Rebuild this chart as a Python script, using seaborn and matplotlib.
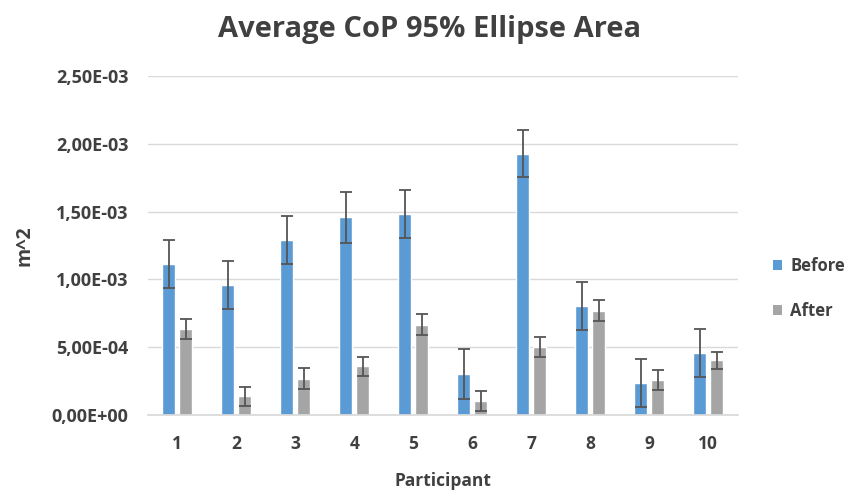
import matplotlib
matplotlib.use("Agg")
import matplotlib.pyplot as plt
import seaborn as sns
import pandas as pd
import numpy as np
from matplotlib.ticker import FuncFormatter, MultipleLocator
from matplotlib.patches import Patch

participants = ["1", "2", "3", "4", "5", "6", "7", "8", "9", "10"]
before = [1.115e-3, 0.958e-3, 1.292e-3, 1.459e-3, 1.481e-3, 0.305e-3, 1.926e-3, 0.803e-3, 0.238e-3, 0.459e-3]
before_err = [0.178e-3, 0.177e-3, 0.175e-3, 0.187e-3, 0.175e-3, 0.186e-3, 0.172e-3, 0.175e-3, 0.175e-3, 0.175e-3]
after = [0.636e-3, 0.138e-3, 0.270e-3, 0.359e-3, 0.668e-3, 0.106e-3, 0.501e-3, 0.769e-3, 0.260e-3, 0.403e-3]
after_err = [0.073e-3, 0.072e-3, 0.076e-3, 0.073e-3, 0.079e-3, 0.073e-3, 0.076e-3, 0.076e-3, 0.076e-3, 0.066e-3]
conditions = ["Before", "After"]
colors = ["#5B9BD5", "#A5A5A5"]

df = pd.DataFrame({
    "Participant": participants * 2,
    "Condition": ["Before"] * len(participants) + ["After"] * len(participants),
    "Value": before + after,
    "Err": before_err + after_err,
})

sns.set_theme(style="white")
plt.rcParams["font.family"] = ["Open Sans", "DejaVu Sans"]
txt = "#404040"

fig = plt.figure(figsize=(8.59, 4.99), dpi=100)
ax = fig.add_axes([0.172, 0.168, 0.687, 0.680])

sns.barplot(data=df, x="Participant", y="Value", hue="Condition", order=participants,
            hue_order=conditions, palette=colors, width=0.576, gap=0.235,
            errorbar=None, legend=False, ax=ax, saturation=1)

# error bars positioned on the drawn bars
for cont, cond in zip(ax.containers, conditions):
    sub = df[df["Condition"] == cond].set_index("Participant").loc[participants]
    xs = [p.get_x() + p.get_width() / 2 for p in cont.patches]
    ys = [p.get_height() for p in cont.patches]
    ax.errorbar(xs, ys, yerr=sub["Err"].values, fmt="none", ecolor="#555555",
                elinewidth=1.3, capsize=4.5, capthick=1.3, zorder=3)

ax.set_xlim(-0.5, len(participants) - 0.5)
ax.set_ylim(0, 2.5e-3)
ax.yaxis.set_major_locator(MultipleLocator(0.5e-3))
ax.yaxis.set_major_formatter(FuncFormatter(lambda v, p: f"{v:.2E}".replace(".", ",")))
ax.grid(axis="y", color="#D9D9D9", linewidth=1)
ax.set_axisbelow(True)
for s in ["top", "right", "left"]:
    ax.spines[s].set_visible(False)
ax.spines["bottom"].set_color("#D9D9D9")
ax.tick_params(axis="y", length=0, labelcolor=txt, labelsize=13, pad=14)
ax.tick_params(axis="x", length=0, labelcolor=txt, labelsize=12.5, pad=14)
for lab in ax.get_xticklabels() + ax.get_yticklabels():
    lab.set_fontweight("bold")

ax.set_xlabel("Participant", fontsize=12.5, fontweight="bold", color=txt)
ax.xaxis.set_label_coords(0.5, (415 - 481) / 339)
ax.xaxis.label.set_va("center")
ax.set_ylabel("m^2", fontsize=14, fontweight="bold", color=txt)
ax.yaxis.set_label_coords((25 - 148) / 590, 0.5)
ax.yaxis.label.set_va("center")

fig.text(0.5, 1 - 29 / 499, "Average CoP 95% Ellipse Area", fontsize=21,
         fontweight="bold", color=txt, ha="center", va="center")

handles = [Patch(facecolor=c, edgecolor="none") for c in colors]
leg = fig.legend(handles, conditions, loc="center left", bbox_to_anchor=(0.882, 0.422),
                 frameon=False, handlelength=0.55, handleheight=0.55, handletextpad=0.5,
                 labelspacing=1.6, borderpad=0.4, prop={"weight": "bold", "size": 12})
for t in leg.get_texts():
    t.set_color(txt)

fig.savefig("out.png", dpi=100)
